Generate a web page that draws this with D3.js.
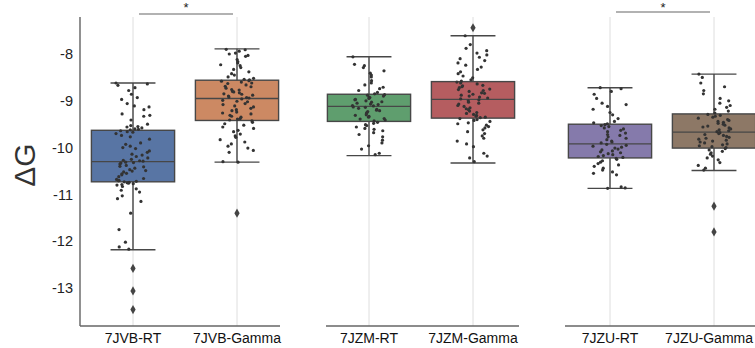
<!DOCTYPE html>
<html>
<head>
<meta charset="utf-8">
<script src="https://cdn.jsdelivr.net/npm/d3@7"></script>
<style>
  body { margin: 0; background: #fff; }
  text { font-family: "Liberation Sans", Arial, sans-serif; }
</style>
</head>
<body>
<div id="chart"></div>
<script>
// groups, two per panel
const groups = ["7JVB-RT", "7JVB-Gamma", "7JZM-RT", "7JZM-Gamma", "7JZU-RT", "7JZU-Gamma"];
const colors = ["#5875a4", "#cc8963", "#5f9e6e", "#b55d60", "#857aab", "#8d7866"];

// box stats
const whiskerHi = [-8.62, -7.89, -8.06, -7.61, -8.72, -8.43];
const q3 = [-9.63, -8.56, -8.86, -8.59, -9.50, -9.28];
const median = [-10.30, -8.95, -9.12, -8.97, -9.92, -9.67];
const q1 = [-10.73, -9.42, -9.44, -9.37, -10.22, -10.01];
const whiskerLo = [-12.18, -10.31, -10.17, -10.33, -10.87, -10.49];
const outliers = [[-12.58, -13.06, -13.46], [-11.40], [], [-7.44], [], [-11.25, -11.80]];

// strip points per group
const pts7JVB_RT = [-8.62, -8.64, -8.67, -8.72, -8.78, -8.86, -8.93, -8.97, -9.06, -9.11, -9.13, -9.19, -9.28, -9.31, -9.33,
  -9.41, -9.50, -9.53, -9.55, -9.56, -9.58, -9.60, -9.61, -9.62, -9.64, -9.66, -9.67, -9.70, -9.74, -9.77, -9.82, -9.90,
  -9.93, -9.97, -10.00, -10.02, -10.07, -10.10, -10.14, -10.16, -10.19, -10.22, -10.25, -10.27, -10.28, -10.29, -10.31,
  -10.32, -10.33, -10.35, -10.38, -10.40, -10.41, -10.44, -10.47, -10.49, -10.50, -10.52, -10.55, -10.56, -10.58, -10.62,
  -10.66, -10.68, -10.70, -10.71, -10.72, -10.73, -10.74, -10.75, -10.76, -10.77, -10.79, -10.80, -10.83, -10.88, -10.91,
  -10.95, -11.03, -11.09, -11.15, -11.40, -11.75, -12.02, -12.12, -12.17];
const pts7JVB_Gamma = [-7.90, -7.91, -7.94, -7.98, -8.00, -8.03, -8.05, -8.12, -8.16, -8.19, -8.23, -8.25, -8.29, -8.33,
  -8.38, -8.42, -8.45, -8.49, -8.52, -8.54, -8.55, -8.57, -8.58, -8.60, -8.62, -8.63, -8.66, -8.69, -8.70, -8.73, -8.76,
  -8.77, -8.80, -8.81, -8.83, -8.85, -8.86, -8.88, -8.90, -8.92, -8.93, -8.94, -8.96, -8.99, -9.01, -9.02, -9.06, -9.08,
  -9.11, -9.13, -9.16, -9.19, -9.21, -9.24, -9.26, -9.28, -9.31, -9.33, -9.35, -9.38, -9.39, -9.41, -9.43, -9.46, -9.49,
  -9.52, -9.56, -9.59, -9.63, -9.66, -9.71, -9.75, -9.78, -9.83, -9.88, -9.92, -9.97, -10.01, -10.06, -10.10, -10.30, -10.31];
const pts7JZM_RT = [-8.06, -8.22, -8.25, -8.29, -8.36, -8.41, -8.45, -8.49, -8.57, -8.62, -8.66, -8.71, -8.74, -8.78,
  -8.82, -8.85, -8.87, -8.88, -8.90, -8.92, -8.93, -8.95, -8.97, -8.98, -9.00, -9.02, -9.03, -9.05, -9.07, -9.08, -9.10,
  -9.11, -9.13, -9.14, -9.16, -9.18, -9.20, -9.21, -9.23, -9.25, -9.27, -9.30, -9.31, -9.33, -9.35, -9.38, -9.39, -9.41,
  -9.43, -9.46, -9.48, -9.51, -9.53, -9.56, -9.59, -9.61, -9.64, -9.68, -9.72, -9.77, -9.84, -9.90, -9.96, -10.03, -10.12, -10.15];
const pts7JZM_Gamma = [-7.61, -7.80, -7.88, -7.93, -7.98, -8.02, -8.07, -8.10, -8.14, -8.19, -8.24, -8.28, -8.33, -8.38,
  -8.42, -8.47, -8.51, -8.55, -8.58, -8.60, -8.62, -8.64, -8.67, -8.68, -8.70, -8.72, -8.75, -8.76, -8.78, -8.80, -8.83,
  -8.84, -8.86, -8.88, -8.90, -8.92, -8.94, -8.96, -8.98, -9.00, -9.03, -9.05, -9.07, -9.10, -9.12, -9.15, -9.17, -9.19,
  -9.22, -9.25, -9.27, -9.29, -9.31, -9.33, -9.35, -9.36, -9.38, -9.40, -9.42, -9.44, -9.47, -9.49, -9.52, -9.55, -9.58,
  -9.62, -9.66, -9.70, -9.75, -9.80, -9.86, -9.92, -9.98, -10.12, -10.18, -10.22, -10.30];
const pts7JZU_RT = [-8.72, -8.74, -8.80, -8.86, -8.95, -9.05, -9.08, -9.12, -9.18, -9.25, -9.30, -9.38, -9.44, -9.47,
  -9.49, -9.51, -9.53, -9.55, -9.58, -9.60, -9.63, -9.66, -9.69, -9.72, -9.74, -9.77, -9.80, -9.83, -9.86, -9.88, -9.90,
  -9.93, -9.95, -9.97, -9.99, -10.01, -10.03, -10.05, -10.07, -10.09, -10.11, -10.13, -10.15, -10.17, -10.19, -10.21,
  -10.23, -10.25, -10.28, -10.31, -10.34, -10.37, -10.40, -10.44, -10.48, -10.52, -10.55, -10.58, -10.84, -10.86, -10.87];
const pts7JZU_Gamma = [-8.43, -8.50, -8.62, -8.70, -8.78, -8.85, -8.95, -9.00, -9.05, -9.10, -9.14, -9.18, -9.22, -9.26,
  -9.29, -9.31, -9.33, -9.35, -9.37, -9.40, -9.42, -9.44, -9.46, -9.48, -9.50, -9.52, -9.54, -9.56, -9.58, -9.60, -9.62,
  -9.64, -9.66, -9.68, -9.70, -9.72, -9.74, -9.76, -9.78, -9.80, -9.82, -9.84, -9.86, -9.88, -9.90, -9.92, -9.94, -9.96,
  -9.98, -10.00, -10.02, -10.05, -10.08, -10.11, -10.14, -10.18, -10.22, -10.26, -10.32, -10.38, -10.44, -10.48];
const points = [pts7JVB_RT, pts7JVB_Gamma, pts7JZM_RT, pts7JZM_Gamma, pts7JZU_RT, pts7JZU_Gamma];

const yTicks = [-8, -9, -10, -11, -12, -13];
// significance brackets: [panel, label]
const sig = [[0, "*"], [2, "*"]];

const width = 755, height = 348;
const plotTop = 17, plotBottom = 326;

// panel layout (pixel ranges of the category scales and their bottom spines)
const panels = [
  { range: [81, 289], spine: [80, 280], sigY: 14 },
  { range: [317, 525], spine: [326, 519], sigY: 14 },
  { range: [558, 766], spine: [565, 755], sigY: 12 }
];

// stable jitter offset in [-0.5, 0.5) for point j of group i
function jitter(i, j) {
    const s = Math.sin(j * 12.9898 + i * 78.233) * 43758.5453;
    return s - Math.floor(s) - 0.5;
}

const svg = d3.select("#chart").append("svg")
    .attr("width", width)
    .attr("height", height);

let y = d3.scaleLinear()
    .domain([-13.81, -7.21])
    .range([plotBottom, plotTop]);

// y axis on the first panel only
svg.append("line")
    .attr("x1", 80).attr("x2", 80)
    .attr("y1", plotTop).attr("y2", plotBottom)
    .attr("stroke", "#555").attr("stroke-width", 1.3);

svg.selectAll(".ytick")
    .data(yTicks)
  .enter().append("text")
    .attr("class", "ytick")
    .attr("x", 73)
    .attr("y", d => y(d))
    .attr("dy", "0.35em")
    .attr("text-anchor", "end")
    .attr("font-size", 14.5)
    .attr("fill", "#222")
    .text(d => d);

svg.append("text")
    .attr("transform", "translate(35," + 165 + ") rotate(-90)")
    .attr("text-anchor", "middle")
    .attr("font-size", 30)
    .attr("fill", "#333")
    .text("ΔG");

panels.forEach(function(p, pi) {
    const cats = groups.slice(pi * 2, pi * 2 + 2);
    let x = d3.scaleBand()
        .domain(cats)
        .range(p.range)
        .paddingInner(0.2)
        .paddingOuter(0.1);
    const bw = x.bandwidth();
    const cx = d => x(d) + bw / 2;

    const g = svg.append("g");

    // vertical grid lines
    g.selectAll(".grid")
        .data(cats)
      .enter().append("line")
        .attr("x1", cx).attr("x2", cx)
        .attr("y1", plotTop).attr("y2", plotBottom)
        .attr("stroke", "#dedede").attr("stroke-width", 1);

    // bottom spine
    g.append("line")
        .attr("x1", p.spine[0]).attr("x2", p.spine[1])
        .attr("y1", plotBottom).attr("y2", plotBottom)
        .attr("stroke", "#666").attr("stroke-width", 1.5);

    cats.forEach(function(c, k) {
        const i = pi * 2 + k;
        const lineCol = "#474747";

        // whiskers
        g.append("line")
            .attr("x1", cx(c)).attr("x2", cx(c))
            .attr("y1", y(whiskerHi[i])).attr("y2", y(whiskerLo[i]))
            .attr("stroke", lineCol).attr("stroke-width", 1.4);
        [whiskerHi[i], whiskerLo[i]].forEach(function(w) {
            g.append("line")
                .attr("x1", cx(c) - bw * 0.27).attr("x2", cx(c) + bw * 0.27)
                .attr("y1", y(w)).attr("y2", y(w))
                .attr("stroke", lineCol).attr("stroke-width", 1.4);
        });

        // box
        g.append("rect")
            .attr("x", x(c))
            .attr("width", bw)
            .attr("y", y(q3[i]))
            .attr("height", y(q1[i]) - y(q3[i]))
            .attr("fill", colors[i])
            .attr("stroke", lineCol).attr("stroke-width", 1.4);
        g.append("line")
            .attr("x1", x(c)).attr("x2", x(c) + bw)
            .attr("y1", y(median[i])).attr("y2", y(median[i]))
            .attr("stroke", lineCol).attr("stroke-width", 1.4);

        // jittered points
        g.selectAll(".pt" + i)
            .data(points[i])
          .enter().append("circle")
            .attr("cx", (d, j) => cx(c) + jitter(i, j) * 34)
            .attr("cy", d => y(d))
            .attr("r", 1.6)
            .attr("fill", "#333");

        // outliers
        g.selectAll(".fl" + i)
            .data(outliers[i])
          .enter().append("path")
            .attr("d", d3.symbol().type(d3.symbolDiamond).size(24))
            .attr("transform", d => "translate(" + cx(c) + "," + y(d) + ")")
            .attr("fill", "#444");

        // category label, kept inside the page
        const lbl = g.append("text")
            .attr("x", cx(c))
            .attr("y", 343)
            .attr("text-anchor", "middle")
            .attr("font-size", 14)
            .attr("fill", "#111")
            .text(c);
        const half = lbl.node().getComputedTextLength() / 2;
        if (cx(c) + half > width - 2) lbl.attr("x", width - 2 - half);
    });

    // significance bracket
    sig.filter(s => s[0] === pi).forEach(function(s) {
        const a = cx(cats[0]) + 6, b = cx(cats[1]) - 4;
        g.append("line")
            .attr("x1", a).attr("x2", b)
            .attr("y1", p.sigY).attr("y2", p.sigY)
            .attr("stroke", "#999").attr("stroke-width", 1.3);
        g.append("text")
            .attr("x", (a + b) / 2)
            .attr("y", 12)
            .attr("text-anchor", "middle")
            .attr("font-size", 13)
            .attr("fill", "#222")
            .text(s[1]);
    });
});
</script>
</body>
</html>
